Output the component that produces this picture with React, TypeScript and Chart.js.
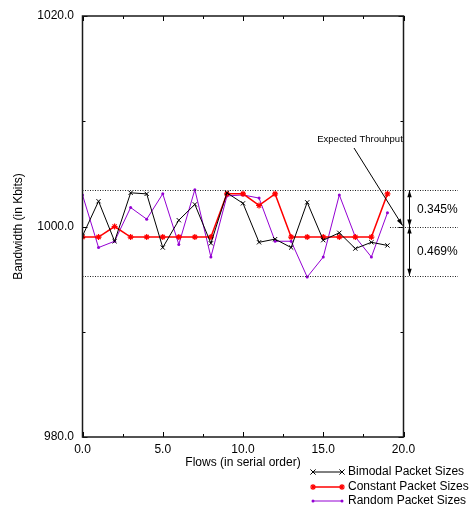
import React, { useEffect, useRef } from 'react';
import { Chart, registerables } from 'chart.js';

Chart.register(...registerables);

const flows = [0, 1, 2, 3, 4, 5, 6, 7, 8, 9, 10, 11, 12, 13, 14, 15, 16, 17, 18, 19];
const bimodal = [999.1, 1002.4, 998.6, 1003.2, 1003.1, 998.0, 1000.6, 1002.1, 998.4, 1003.2, 1002.2, 998.5, 998.8, 998.0, 1002.3, 998.7, 999.4, 997.9, 998.5, 998.2];
const constant = [999.0, 999.0, 1000.0, 999.0, 999.0, 999.0, 999.0, 999.0, 999.0, 1003.1, 1003.1, 1002.0, 1003.1, 999.0, 999.0, 999.0, 999.0, 999.0, 999.0, 1003.1];
const random = [1003.0, 998.0, 998.6, 1001.8, 1000.7, 1003.1, 998.3, 1003.5, 997.1, 1002.9, 1003.0, 1002.7, 998.6, 998.6, 995.2, 997.1, 1003.0, 999.0, 997.1, 1001.3];

const seriesLabels = ['Bimodal Packet Sizes', 'Constant Packet Sizes', 'Random Packet Sizes'];
const seriesColors = ['#000000', '#ff0000', '#9400d3'];

const expected = 1000;
const upperPct = 0.345;
const lowerPct = 0.469;
const yMin = 980;
const yMax = 1020;
const yStep = 10;
const yLabelEvery = 20;
const xMin = 0;
const xMax = 20;
const xStep = 2.5;
const xLabelEvery = 5;

const FONT = '"Liberation Sans", Arial, Helvetica, sans-serif';

function drawMarker(ctx: CanvasRenderingContext2D, kind: number, x: number, y: number) {
  ctx.save();
  ctx.strokeStyle = seriesColors[kind];
  ctx.fillStyle = seriesColors[kind];
  if (kind === 0) {
    const r = 2.6;
    ctx.lineWidth = 1;
    ctx.beginPath();
    ctx.moveTo(x - r, y - r); ctx.lineTo(x + r, y + r);
    ctx.moveTo(x - r, y + r); ctx.lineTo(x + r, y - r);
    ctx.stroke();
  } else if (kind === 1) {
    const r = 3;
    ctx.lineWidth = 1.2;
    ctx.beginPath();
    for (let i = 0; i < 4; i++) {
      const a = (i * Math.PI) / 4;
      ctx.moveTo(x - r * Math.cos(a), y - r * Math.sin(a));
      ctx.lineTo(x + r * Math.cos(a), y + r * Math.sin(a));
    }
    ctx.stroke();
  } else {
    ctx.beginPath();
    ctx.arc(x, y, 1.5, 0, Math.PI * 2);
    ctx.fill();
  }
  ctx.restore();
}

function arrowHead(ctx: CanvasRenderingContext2D, x1: number, y1: number, x2: number, y2: number, len = 7, half = 2.2) {
  const a = Math.atan2(y2 - y1, x2 - x1);
  const bx = x2 - len * Math.cos(a);
  const by = y2 - len * Math.sin(a);
  ctx.beginPath();
  ctx.moveTo(x2, y2);
  ctx.lineTo(bx + half * Math.sin(a), by - half * Math.cos(a));
  ctx.lineTo(bx - half * Math.sin(a), by + half * Math.cos(a));
  ctx.closePath();
  ctx.fill();
}

const decorPlugin = {
  id: 'decor',
  afterDraw(chart: any) {
    const ctx: CanvasRenderingContext2D = chart.ctx;
    const { left, right, top, bottom } = chart.chartArea;
    const xs = chart.scales.x;
    const ys = chart.scales.y;
    ctx.save();

    // inward ticks (mirrored)
    ctx.strokeStyle = '#000';
    ctx.lineWidth = 1;
    ys.ticks.forEach((t: any) => {
      const py = Math.round(ys.getPixelForValue(t.value)) + 0.5;
      const len = t.value % yLabelEvery === 0 ? 5 : 3;
      ctx.beginPath();
      ctx.moveTo(left, py); ctx.lineTo(left + len, py);
      ctx.moveTo(right, py); ctx.lineTo(right - len, py);
      ctx.stroke();
    });
    xs.ticks.forEach((t: any) => {
      const px = Math.round(xs.getPixelForValue(t.value)) + 0.5;
      const len = t.value % xLabelEvery === 0 ? 5 : 3;
      ctx.beginPath();
      ctx.moveTo(px, bottom); ctx.lineTo(px, bottom - len);
      ctx.moveTo(px, top); ctx.lineTo(px, top + len);
      ctx.stroke();
    });

    // frame
    ctx.strokeStyle = '#1a1a1a';
    ctx.lineWidth = 1.5;
    ctx.strokeRect(left, top, right - left, bottom - top);

    // dotted reference lines
    const yUp = ys.getPixelForValue(expected * (1 + upperPct / 100));
    const yLo = ys.getPixelForValue(expected * (1 - lowerPct / 100));
    const yMid = ys.getPixelForValue(expected);
    const extEnd = 458;
    ctx.strokeStyle = '#222';
    ctx.lineWidth = 1;
    ctx.setLineDash([1, 1.5]);
    ctx.beginPath();
    ctx.moveTo(left, Math.round(yUp) + 0.5); ctx.lineTo(extEnd, Math.round(yUp) + 0.5);
    ctx.moveTo(left, Math.round(yLo) + 0.5); ctx.lineTo(extEnd, Math.round(yLo) + 0.5);
    ctx.moveTo(390, Math.round(yMid) + 0.5); ctx.lineTo(extEnd, Math.round(yMid) + 0.5);
    ctx.stroke();
    ctx.setLineDash([]);

    // double arrows
    const ax = 409.5;
    ctx.strokeStyle = '#000';
    ctx.fillStyle = '#000';
    ctx.lineWidth = 1;
    ctx.beginPath();
    ctx.moveTo(ax, yUp); ctx.lineTo(ax, yLo);
    ctx.stroke();
    arrowHead(ctx, ax, yMid, ax, yUp);
    arrowHead(ctx, ax, yUp, ax, yMid);
    arrowHead(ctx, ax, yLo, ax, yMid);
    arrowHead(ctx, ax, yMid, ax, yLo);

    // percentage labels
    ctx.font = `12px ${FONT}`;
    ctx.textAlign = 'left';
    ctx.textBaseline = 'middle';
    ctx.fillText(`${upperPct.toFixed(3)}%`, 417, (yUp + yMid) / 2 + 1);
    ctx.fillText(`${lowerPct.toFixed(3)}%`, 417, (yMid + yLo) / 2 + 1);

    // expected throughput annotation
    ctx.font = `9.5px ${FONT}`;
    ctx.textAlign = 'center';
    ctx.fillText('Expected Throuhput', 360, 139);
    const ex = xs.getPixelForValue(xMax) - 1;
    ctx.beginPath();
    ctx.moveTo(354, 148); ctx.lineTo(ex, yMid - 1);
    ctx.stroke();
    arrowHead(ctx, 354, 148, ex, yMid - 1, 7, 2.2);

    // legend
    ctx.font = `12px ${FONT}`;
    ctx.textAlign = 'left';
    const rows = [472, 487, 501];
    seriesLabels.forEach((lab, i) => {
      const y = rows[i];
      ctx.strokeStyle = seriesColors[i];
      ctx.lineWidth = i === 1 ? 1.5 : 1;
      ctx.beginPath();
      ctx.moveTo(313, y); ctx.lineTo(342, y);
      ctx.stroke();
      drawMarker(ctx, i, 313, y);
      drawMarker(ctx, i, 342, y);
      ctx.fillStyle = '#000';
      ctx.fillText(lab, 348, y);
    });
    ctx.restore();
  },
};

export default function App() {
  const ref = useRef<HTMLCanvasElement | null>(null);
  useEffect(() => {
    document.body.style.margin = '0';
    if (!ref.current) return;
    Chart.defaults.font.family = FONT;
    const mk = (arr: number[]) => flows.map((f, i) => ({ x: f, y: arr[i] }));
    const chart = new Chart(ref.current, {
      type: 'line',
      data: {
        datasets: [
          {
            label: seriesLabels[0], data: mk(bimodal), borderColor: seriesColors[0], backgroundColor: seriesColors[0],
            borderWidth: 1, pointStyle: 'crossRot', pointRadius: 3, pointBorderWidth: 1, tension: 0,
          },
          {
            label: seriesLabels[1], data: mk(constant), borderColor: seriesColors[1], backgroundColor: seriesColors[1],
            borderWidth: 1.5, pointStyle: 'star', pointRadius: 3, pointBorderWidth: 1.2, tension: 0,
          },
          {
            label: seriesLabels[2], data: mk(random), borderColor: seriesColors[2], backgroundColor: seriesColors[2],
            borderWidth: 1, pointStyle: 'circle', pointRadius: 1.5, pointBorderWidth: 0, tension: 0,
          },
        ],
      },
      options: {
        responsive: false,
        animation: false,
        events: [],
        layout: { padding: { top: 16, right: 65.5, bottom: 42, left: 0 } },
        plugins: { legend: { display: false }, tooltip: { enabled: false } },
        scales: {
          x: {
            type: 'linear', min: xMin, max: xMax,
            grid: { display: false, drawTicks: false, tickLength: 0 },
            border: { display: false },
            ticks: {
              stepSize: xStep, autoSkip: false, maxRotation: 0, padding: 5, color: '#000',
              font: { size: 12, family: FONT },
              callback: (v: any) => (Number(v) % xLabelEvery === 0 ? Number(v).toFixed(1) : ''),
            },
            title: { display: true, text: 'Flows (in serial order)', color: '#000', font: { size: 12, family: FONT }, padding: { top: 0, bottom: 0 } },
            afterFit: (s: any) => { s.height = 33; },
          },
          y: {
            type: 'linear', min: yMin, max: yMax,
            grid: { display: false, drawTicks: false, tickLength: 0 },
            border: { display: false },
            ticks: {
              stepSize: yStep, autoSkip: false, padding: 8.5, color: '#000',
              font: { size: 12, family: FONT },
              callback: (v: any) => (Number(v) % yLabelEvery === 0 ? Number(v).toFixed(1) : ''),
            },
            title: { display: true, text: 'Bandwidth (in Kbits)', color: '#000', font: { size: 12, family: FONT }, padding: { top: 11, bottom: 0 } },
            afterFit: (s: any) => { s.width = 82.5; },
          },
        },
      },
      plugins: [decorPlugin],
    });
    return () => chart.destroy();
  }, []);
  return <canvas ref={ref} width={469} height={512} style={{ display: 'block', width: 469, height: 512 }} />;
}
